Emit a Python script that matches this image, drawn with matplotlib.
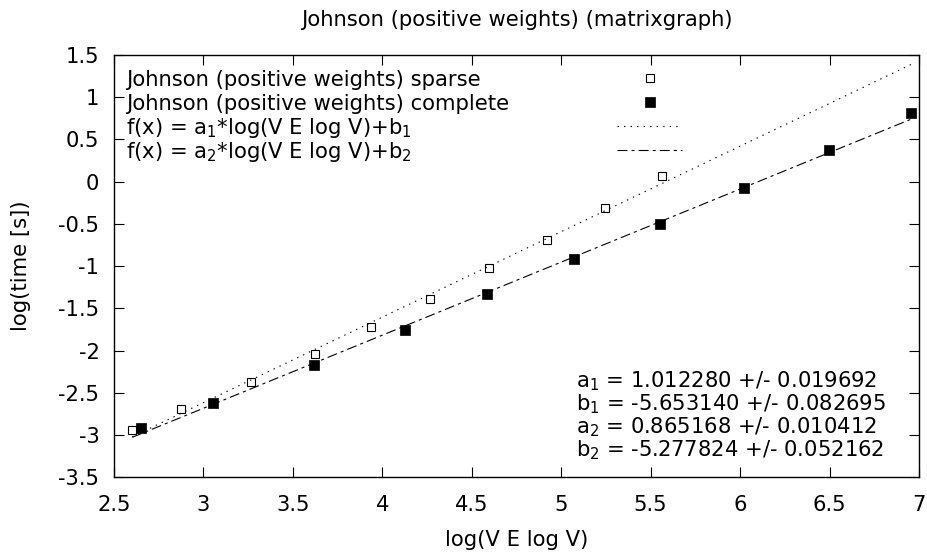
import numpy as np
import matplotlib
matplotlib.use("Agg")
import matplotlib.pyplot as plt
from matplotlib.lines import Line2D
from matplotlib.ticker import FuncFormatter

plt.rcParams['font.family'] = ['DejaVu Sans']
plt.rcParams['mathtext.fontset'] = 'dejavusans'
plt.rcParams['axes.unicode_minus'] = False
plt.rcParams['lines.scale_dashes'] = False

# ---- data -------------------------------------------------------------
title = "Johnson (positive weights) (matrixgraph)"
x_label = "log(V E log V)"
y_label = "log(time [s])"

sparse_label = "Johnson (positive weights) sparse"
complete_label = "Johnson (positive weights) complete"
fit1_label = r"f(x) = $\mathregular{a_1}$*log(V E log V)+$\mathregular{b_1}$"
fit2_label = r"f(x) = $\mathregular{a_2}$*log(V E log V)+$\mathregular{b_2}$"

sparse_x = [2.602, 2.876, 3.265, 3.621, 3.935, 4.267, 4.598, 4.921, 5.247, 5.561]
sparse_y = [-2.941, -2.692, -2.377, -2.045, -1.717, -1.390, -1.024, -0.695, -0.307, 0.073]

complete_x = [2.651, 3.054, 3.617, 4.129, 4.587, 5.074, 5.554, 6.024, 6.496, 6.955]
complete_y = [-2.914, -2.617, -2.167, -1.756, -1.330, -0.921, -0.497, -0.077, 0.378, 0.814]

# fitted parameters (value, standard error)
a1, a1_err = 1.012280, 0.019692
b1, b1_err = -5.653140, 0.082695
a2, a2_err = 0.865168, 0.010412
b2, b2_err = -5.277824, 0.052162

x_ticks = [2.5, 3, 3.5, 4, 4.5, 5, 5.5, 6, 6.5, 7]
y_ticks = [-3.5, -3, -2.5, -2, -1.5, -1, -0.5, 0, 0.5, 1, 1.5]

# ---- figure -----------------------------------------------------------
W, H = 928, 554
FS = 15.2
fig = plt.figure(figsize=(W / 100, H / 100), dpi=100)


def fpos(px, py):
    """pixel position (from top-left) -> figure fraction"""
    return px / W, 1 - py / H


left, top, right, bottom = 114, 55, 919, 477.3
ax = fig.add_axes([left / W, 1 - bottom / H, (right - left) / W, (bottom - top) / H])

# fit lines over the range of the measurements
all_x = np.array(sparse_x + complete_x)
xf = np.linspace(all_x.min(), all_x.max(), 300)
dot_style = dict(color='black', lw=0.8, dashes=(1.0, 3.7), dash_capstyle='butt')
dashdot_style = dict(color='black', lw=0.8, dashes=(7.2, 2.9, 2.2, 2.9), dash_capstyle='butt')
ax.plot(xf, a1 * xf + b1, **dot_style, zorder=2)
ax.plot(xf, a2 * xf + b2, **dashdot_style, zorder=2)

open_sq = dict(marker='s', ms=6.3, mfc='none', mec='black', mew=0.8, ls='none')
filled_sq = dict(marker='s', ms=6.5, mfc='black', mec='black', mew=0.5, ls='none')
ax.plot(sparse_x, sparse_y, **open_sq, zorder=3)
ax.plot(complete_x, complete_y, **filled_sq, zorder=3)

ax.set_xlim(2.5, 7)
ax.set_ylim(-3.5, 1.5)
ax.set_xticks(x_ticks)
ax.set_yticks(y_ticks)
fmt = FuncFormatter(lambda v, p: f"{v:g}")
ax.xaxis.set_major_formatter(fmt)
ax.yaxis.set_major_formatter(fmt)
ax.tick_params(axis='both', which='major', direction='in', length=7.2, width=0.8,
               top=True, right=True, labelsize=FS, colors='black')
ax.tick_params(axis='x', pad=12.8)
ax.tick_params(axis='y', pad=10.5)
for s in ax.spines.values():
    s.set_linewidth(1.0)

ax.set_title(title, fontsize=FS, pad=21)
ax.set_xlabel(x_label, fontsize=FS)
ax.xaxis.set_label_coords(0.5, (bottom - 530.5) / (bottom - top))
ax.set_ylabel(y_label, fontsize=FS, va='center')
ax.yaxis.set_label_coords((20.5 - left) / (right - left), 0.5)

# ---- key (text column on the left, samples on the right) ----------------
key_rows = [
    (sparse_label, 86, 'open'),
    (complete_label, 110, 'filled'),
    (fit1_label, 134, 'dot'),
    (fit2_label, 158, 'dashdot'),
]
for text, base, kind in key_rows:
    fx, fy = fpos(126.5, base)
    fig.text(fx, fy, text, fontsize=FS, ha='left', va='baseline')
    cy = base - 8
    if kind in ('open', 'filled'):
        mx, my = fpos(650, cy)
        style = open_sq if kind == 'open' else filled_sq
        fig.add_artist(Line2D([mx], [my], transform=fig.transFigure, **style))
    else:
        x0, y0 = fpos(617, cy)
        x1, _ = fpos(682, cy)
        style = dot_style if kind == 'dot' else dashdot_style
        fig.add_artist(Line2D([x0, x1], [y0, y0], transform=fig.transFigure, **style))

# ---- fitted parameter readout --------------------------------------------
params = [
    (r"$\mathregular{a_1}$", a1, a1_err, 387.5),
    (r"$\mathregular{b_1}$", b1, b1_err, 410.5),
    (r"$\mathregular{a_2}$", a2, a2_err, 433.5),
    (r"$\mathregular{b_2}$", b2, b2_err, 456.5),
]
for name, val, err, base in params:
    fx, fy = fpos(576, base)
    fig.text(fx, fy, f"{name} = {val:.6f} +/- {err:.6f}", fontsize=FS,
             ha='left', va='baseline')

fig.savefig("out.png", dpi=100)
